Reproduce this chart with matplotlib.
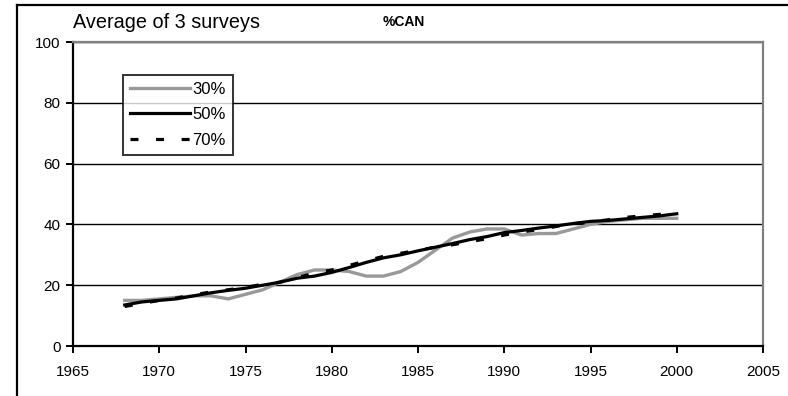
import matplotlib
matplotlib.use("Agg")
import matplotlib.pyplot as plt
from matplotlib.lines import Line2D

plt.rcParams['font.family'] = ['Liberation Sans', 'DejaVu Sans']

years = list(range(1968, 2001))
pct30 = [15, 15, 15.5, 16, 16.5, 16.5, 15.5, 17, 18.5, 21, 23.5, 25, 25, 24.5,
         23, 23, 24.5, 27.5, 31.5, 35.5, 37.5, 38.5, 38.5, 36.5, 37, 37, 38.5,
         40, 41, 41.5, 42, 42, 42]
pct50 = [13.5, 14.5, 15, 15.5, 16.5, 17.5, 18.3, 19, 20, 21, 22.3, 23, 24.2,
         25.8, 27.5, 29, 30, 31.3, 32.5, 33.7, 35, 36, 37.3, 38, 38.8, 39.5,
         40.3, 41, 41.3, 41.8, 42.3, 42.8, 43.5]
pct70 = [13, 14, 15, 15.8, 16.8, 17.8, 18.5, 19.3, 20.3, 21, 22.5, 24, 25,
         26.5, 28, 29.5, 30.5, 31.5, 32.5, 33.3, 34.3, 35.3, 36.5, 37.5, 38.3,
         39.3, 40.3, 40.8, 41.5, 42.3, 42.8, 43.3, 43.5]
labels = ['30%', '50%', '70%']
xticks = list(range(1965, 2006, 5))
yticks = list(range(0, 101, 20))

fig = plt.figure(figsize=(7.88, 3.96), dpi=100)
ax = fig.add_axes([73 / 788, 1 - 346 / 396, 690 / 788, 304 / 396])

# outer chart-area frame (top and left edges only)
fig.add_artist(Line2D([17 / 788, 1], [1 - 5 / 396, 1 - 5 / 396], color='black', lw=1.6))
fig.add_artist(Line2D([17 / 788, 17 / 788], [0, 1 - 5 / 396], color='black', lw=1.6))

ax.plot(years, pct30, color='#999999', lw=2.4, label=labels[0], zorder=3)
ax.plot(years, pct50, color='black', lw=2.3, label=labels[1], zorder=4)
ax.plot(years, pct70, color='black', lw=2.3, dashes=(2.5, 5.5), label=labels[2], zorder=5)

ax.set_xlim(1965, 2005)
ax.set_ylim(0, 100)
ax.set_xticks(xticks)
ax.set_yticks(yticks)
ax.yaxis.grid(True, color='black', lw=1.0)
ax.set_axisbelow(True)

for side in ('left', 'bottom'):
    ax.spines[side].set_color('black')
    ax.spines[side].set_linewidth(1.6)
for side in ('top', 'right'):
    ax.spines[side].set_color('#808080')
    ax.spines[side].set_linewidth(1.6)

ax.tick_params(axis='both', direction='out', length=5, width=1.4, color='black',
               labelsize=11, pad=4)
ax.tick_params(axis='x', pad=9)

fig.text(73 / 788, 1 - 22 / 396, 'Average of 3 surveys', fontsize=14.3, va='center', ha='left')
fig.text(383 / 788, 1 - 22 / 396, '%CAN', fontsize=10, fontweight='bold', va='center', ha='left')

leg = ax.legend(loc='upper left', bbox_to_anchor=(50 / 690, 1 - 33 / 304),
                frameon=True, fancybox=False, fontsize=12, handlelength=3.6,
                handletextpad=0.15, labelspacing=0.62, borderpad=0.42,
                borderaxespad=0)
leg.get_frame().set_edgecolor('black')
leg.get_frame().set_linewidth(1.4)

fig.savefig('out.png', dpi=100)
